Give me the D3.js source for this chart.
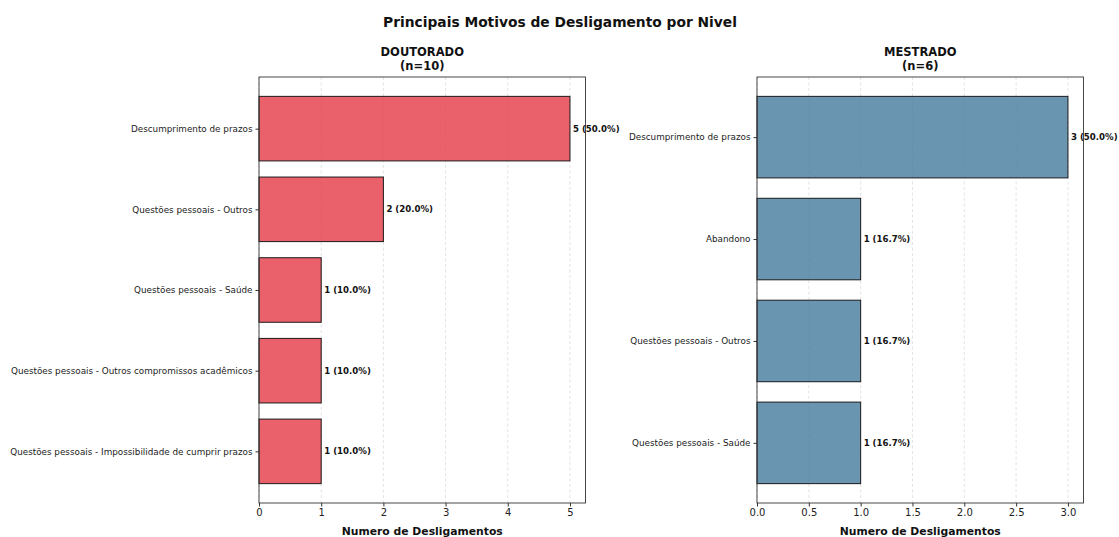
<!DOCTYPE html>
<html>
<head>
<meta charset="utf-8">
<script src="https://cdn.jsdelivr.net/npm/d3@7"></script>
<style>
  html, body { margin: 0; padding: 0; background: #fff; }
  svg { display: block; font-family: "DejaVu Sans", sans-serif; }
</style>
</head>
<body>
<svg id="chart" width="1119" height="537"></svg>
<script>
// Reasons for leaving, per program level
const docCategories = [
  "Descumprimento de prazos",
  "Questões pessoais - Outros",
  "Questões pessoais - Saúde",
  "Questões pessoais - Outros compromissos acadêmicos",
  "Questões pessoais - Impossibilidade de cumprir prazos"
];
const docValues = [5, 2, 1, 1, 1];
const docTotal = 10;
const docTicks = [0, 1, 2, 3, 4, 5];

const mesCategories = [
  "Descumprimento de prazos",
  "Abandono",
  "Questões pessoais - Outros",
  "Questões pessoais - Saúde"
];
const mesValues = [3, 1, 1, 1];
const mesTotal = 6;
const mesTicks = [0, 0.5, 1.0, 1.5, 2.0, 2.5, 3.0];

const svg = d3.select("#chart");

svg.append("text")
  .attr("x", 560).attr("y", 27)
  .attr("text-anchor", "middle")
  .attr("font-size", 13.8).attr("font-weight", "bold")
  .attr("fill", "#111")
  .text("Principais Motivos de Desligamento por Nivel");

function panel(opts) {
  const { left, right, top, bottom, cats, vals, total, ticks, tickFmt, color, title } = opts;
  const maxV = d3.max(vals);
  const n = cats.length;
  const x = d3.scaleLinear().domain([0, maxV * 1.05]).range([left, right]);
  // category positions: index i centred at i, bars span ±0.4, 5% padding
  const pad = (n - 1 + 0.8) * 0.05;
  const y = d3.scaleLinear().domain([-0.4 - pad, n - 1 + 0.4 + pad]).range([top, bottom]);

  const g = svg.append("g");

  // vertical dashed grid
  g.append("g").selectAll("line").data(ticks).join("line")
    .attr("x1", d => x(d)).attr("x2", d => x(d))
    .attr("y1", top).attr("y2", bottom)
    .attr("stroke", "#dcdcdc").attr("stroke-width", 0.8)
    .attr("stroke-dasharray", "3,2.5");

  // bars
  g.append("g").selectAll("rect").data(vals).join("rect")
    .attr("x", x(0))
    .attr("y", (d, i) => y(i - 0.4))
    .attr("width", d => x(d) - x(0))
    .attr("height", (d, i) => y(i + 0.4) - y(i - 0.4))
    .attr("fill", color)
    .attr("stroke", "#1a1a1a").attr("stroke-width", 1);

  // value labels
  g.append("g").selectAll("text").data(vals).join("text")
    .attr("x", d => x(d) + 3)
    .attr("y", (d, i) => y(i))
    .attr("dy", "0.35em")
    .attr("font-size", 8.6).attr("font-weight", "bold")
    .attr("fill", "#111")
    .text(d => `${d} (${(d / total * 100).toFixed(1)}%)`);

  // frame
  g.append("rect")
    .attr("x", left).attr("y", top)
    .attr("width", right - left).attr("height", bottom - top)
    .attr("fill", "none").attr("stroke", "#333").attr("stroke-width", 0.9);

  // x axis
  const xAxis = d3.axisBottom(x).tickValues(ticks).tickFormat(tickFmt).tickSize(3.5).tickPadding(2);
  const ax = g.append("g").attr("transform", `translate(0,${bottom})`).call(xAxis);
  ax.select(".domain").remove();
  ax.selectAll("line").attr("stroke", "#333");
  ax.selectAll("text").attr("font-size", 10).attr("fill", "#222").attr("font-family", "DejaVu Sans, sans-serif");

  // y axis
  const yAxis = d3.axisLeft(y).tickValues(d3.range(n)).tickFormat(i => cats[i]).tickSize(3.5).tickPadding(3);
  const ay = g.append("g").attr("transform", `translate(${left},0)`).call(yAxis);
  ay.select(".domain").remove();
  ay.selectAll("line").attr("stroke", "#333");
  ay.selectAll("text").attr("font-size", 8.8).attr("fill", "#222").attr("font-family", "DejaVu Sans, sans-serif");

  // x label
  g.append("text")
    .attr("x", (left + right) / 2).attr("y", bottom + 32)
    .attr("text-anchor", "middle")
    .attr("font-size", 10.8).attr("font-weight", "bold").attr("fill", "#111")
    .text("Numero de Desligamentos");

  // panel title
  const t = g.append("text")
    .attr("x", (left + right) / 2).attr("y", 56)
    .attr("text-anchor", "middle")
    .attr("font-size", 11.5).attr("font-weight", "bold").attr("fill", "#111");
  t.append("tspan").attr("x", (left + right) / 2).attr("dy", 0).text(title);
  t.append("tspan").attr("x", (left + right) / 2).attr("dy", 14).text(`(n=${total})`);
}

panel({
  left: 259, right: 585.5, top: 77, bottom: 503,
  cats: docCategories, vals: docValues, total: docTotal,
  ticks: docTicks, tickFmt: d3.format("d"),
  color: "rgba(230,57,70,0.8)", title: "DOUTORADO"
});

panel({
  left: 757, right: 1083.5, top: 77, bottom: 503,
  cats: mesCategories, vals: mesValues, total: mesTotal,
  ticks: mesTicks, tickFmt: d3.format(".1f"),
  color: "rgba(69,123,157,0.8)", title: "MESTRADO"
});
</script>
</body>
</html>
